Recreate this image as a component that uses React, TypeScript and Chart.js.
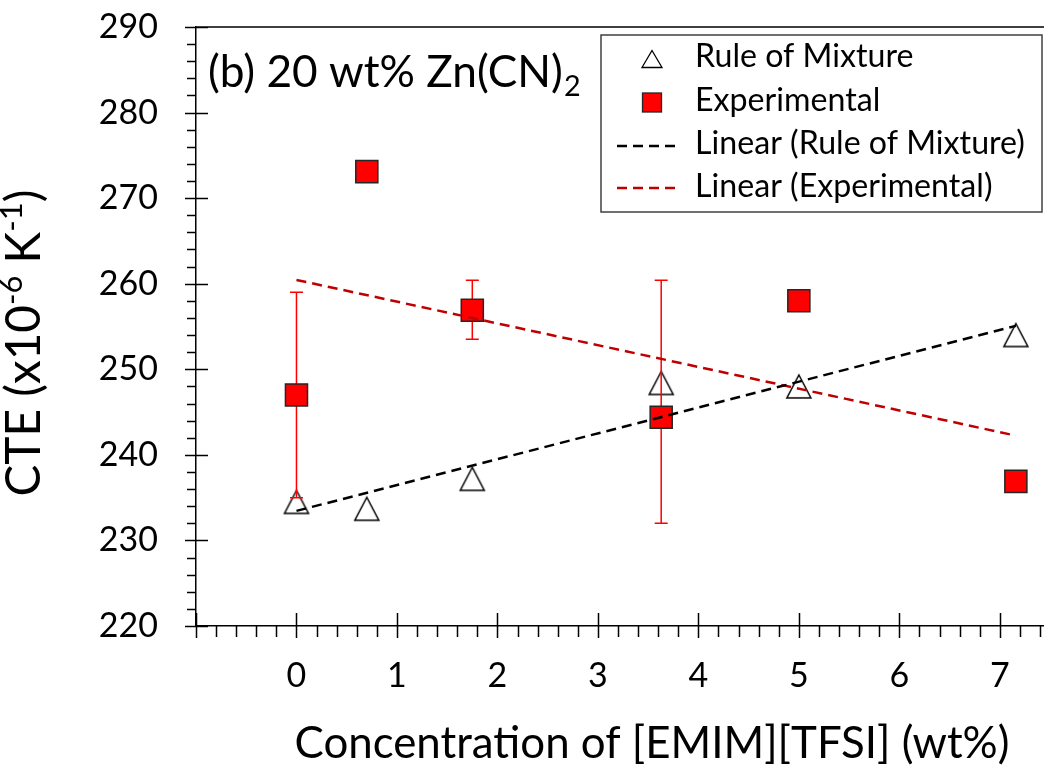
import React, { useEffect, useRef } from "react";
import { Chart, registerables } from "chart.js";

Chart.register(...registerables);

// ---- data ----
const concentration = [0, 0.7, 1.75, 3.63, 5, 7.16];
const ruleOfMixture = [234.5, 233.7, 237.2, 248.4, 248.0, 254.0];
const experimental = [247.0, 273.1, 256.9, 244.4, 258.0, 236.9];
const expErrPlus = [12, 0, 3.5, 16, 0, 0];
const expErrMinus = [12, 0, 3.4, 12.4, 0, 0];
const xTickValues = [0, 1, 2, 3, 4, 5, 6, 7];
const yTickValues = [220, 230, 240, 250, 260, 270, 280, 290];
const seriesLabels = [
  "Rule of Mixture",
  "Experimental",
  "Linear (Rule of Mixture)",
  "Linear (Experimental)",
];
const panelTitle = "(b) 20 wt% Zn(CN)";
const panelTitleSub = "2";
const xAxisTitle = "Concentration of [EMIM][TFSI] (wt%)";
const yAxisTitleParts = [
  { t: "CTE (x10", sup: false },
  { t: "-6", sup: true },
  { t: " K", sup: false },
  { t: "-1", sup: true },
  { t: ")", sup: false },
];

const FONT = "Lato";
const RED = "#FF0000";
const TREND_RED = "#C00000";
const CANVAS_W = 1084;
const CANVAS_H = 772;
const AREA = { left: 196, top: 27, right: 1044, bottom: 626 };

function linearFit(xs: number[], ys: number[]) {
  const n = xs.length;
  const mx = xs.reduce((a, b) => a + b, 0) / n;
  const my = ys.reduce((a, b) => a + b, 0) / n;
  let sxy = 0;
  let sxx = 0;
  for (let i = 0; i < n; i++) {
    sxy += (xs[i] - mx) * (ys[i] - my);
    sxx += (xs[i] - mx) * (xs[i] - mx);
  }
  const b = sxy / sxx;
  const a = my - b * mx;
  const x0 = xs[0];
  const x1 = xs[n - 1];
  return [
    { x: x0, y: a + b * x0 },
    { x: x1, y: a + b * x1 },
  ];
}

function fitSize(ctx: CanvasRenderingContext2D, text: string, target: number) {
  ctx.font = `100px ${FONT}`;
  return (100 * target) / ctx.measureText(text).width;
}

function makeTriangle(w: number, h: number) {
  const c = document.createElement("canvas");
  c.width = Math.ceil(w + 4);
  c.height = Math.ceil(h + 4);
  const g = c.getContext("2d")!;
  const cx = c.width / 2;
  const cy = c.height / 2;
  g.beginPath();
  g.moveTo(cx, cy - h / 2);
  g.lineTo(cx + w / 2, cy + h / 2);
  g.lineTo(cx - w / 2, cy + h / 2);
  g.closePath();
  g.fillStyle = "#FFFFFF";
  g.fill();
  g.lineWidth = 1.5;
  g.strokeStyle = "#000000";
  g.stroke();
  return c;
}

const overlayPlugin = {
  id: "overlay",
  afterDatasetDraw(chart: any, args: any) {
    if (args.index !== 3) return;
    const { ctx } = chart;
    const xs = chart.scales.x;
    const ys = chart.scales.y;
    ctx.save();
    ctx.strokeStyle = RED;
    ctx.lineWidth = 1.5;
    concentration.forEach((c, i) => {
      if (!expErrPlus[i] && !expErrMinus[i]) return;
      const px = xs.getPixelForValue(c);
      const top = ys.getPixelForValue(experimental[i] + expErrPlus[i]);
      const bot = ys.getPixelForValue(experimental[i] - expErrMinus[i]);
      ctx.beginPath();
      ctx.moveTo(px, top);
      ctx.lineTo(px, bot);
      ctx.moveTo(px - 6.5, top);
      ctx.lineTo(px + 6.5, top);
      ctx.moveTo(px - 6.5, bot);
      ctx.lineTo(px + 6.5, bot);
      ctx.stroke();
    });
    ctx.restore();
  },
  afterDraw(chart: any) {
    const { ctx, chartArea: ca } = chart;
    const xs = chart.scales.x;
    const ys = chart.scales.y;
    ctx.save();
    ctx.strokeStyle = "#000";
    ctx.lineWidth = 1.5;
    ctx.beginPath();
    // top frame line
    ctx.moveTo(ca.left, ca.top);
    ctx.lineTo(ca.right, ca.top);
    // x ticks (minor every 0.2)
    for (let k = -5; k <= 38; k++) {
      const v = k / 5;
      if (v > xs.max) break;
      const px = Math.round(xs.getPixelForValue(v)) + 0.5;
      if (k % 5 === 0) {
        ctx.moveTo(px, ca.bottom - 13);
        ctx.lineTo(px, ca.bottom + 12);
      } else {
        ctx.moveTo(px, ca.bottom);
        ctx.lineTo(px, ca.bottom + 11);
      }
    }
    // y ticks (minor every 2)
    for (let v = 220; v <= 290; v += 2) {
      const py = Math.round(ys.getPixelForValue(v)) + 0.5;
      if (v % 10 === 0) {
        ctx.moveTo(ca.left - 11, py);
        ctx.lineTo(ca.left + 12, py);
      } else {
        ctx.moveTo(ca.left - 9, py);
        ctx.lineTo(ca.left, py);
      }
    }
    ctx.stroke();

    ctx.fillStyle = "#000";
    ctx.textBaseline = "alphabetic";
    ctx.textAlign = "left";

    // panel title with subscript
    const pSize = fitSize(ctx, panelTitle, 355);
    ctx.font = `${pSize}px ${FONT}`;
    ctx.fillText(panelTitle, 208, 87);
    const pw = ctx.measureText(panelTitle).width;
    ctx.font = `${pSize * 0.65}px ${FONT}`;
    ctx.fillText(panelTitleSub, 208 + pw + 1, 96);

    // x axis title
    const xSize = fitSize(ctx, xAxisTitle, 715);
    ctx.font = `${xSize}px ${FONT}`;
    ctx.textAlign = "center";
    ctx.fillText(xAxisTitle, 652, 758);
    ctx.textAlign = "left";

    // y axis title with superscripts
    let w100 = 0;
    yAxisTitleParts.forEach((p) => {
      ctx.font = `${p.sup ? 65 : 100}px ${FONT}`;
      w100 += ctx.measureText(p.t).width;
    });
    const ySize = (100 * 307) / w100;
    ctx.save();
    ctx.translate(40, 343);
    ctx.rotate(-Math.PI / 2);
    let cx = -307 / 2;
    yAxisTitleParts.forEach((p) => {
      const s = p.sup ? ySize * 0.65 : ySize;
      ctx.font = `${s}px ${FONT}`;
      ctx.fillText(p.t, cx, p.sup ? -ySize * 0.38 : 0);
      cx += ctx.measureText(p.t).width;
    });
    ctx.restore();

    // legend
    ctx.fillStyle = "#FFFFFF";
    ctx.fillRect(601, 35, 441, 177);
    ctx.strokeStyle = "#404040";
    ctx.lineWidth = 1.5;
    ctx.strokeRect(601, 35, 441, 177);

    ctx.beginPath();
    ctx.moveTo(652, 50.5);
    ctx.lineTo(662, 67.5);
    ctx.lineTo(642, 67.5);
    ctx.closePath();
    ctx.fillStyle = "#FFFFFF";
    ctx.fill();
    ctx.strokeStyle = "#000";
    ctx.lineWidth = 1.3;
    ctx.stroke();

    ctx.fillStyle = RED;
    ctx.fillRect(642.5, 93, 19, 19);
    ctx.strokeStyle = "#262626";
    ctx.lineWidth = 1.3;
    ctx.strokeRect(642.5, 93, 19, 19);

    ctx.lineWidth = 2.5;
    ctx.setLineDash([10, 6]);
    ctx.strokeStyle = "#000";
    ctx.beginPath();
    ctx.moveTo(617, 146);
    ctx.lineTo(681, 146);
    ctx.stroke();
    ctx.strokeStyle = TREND_RED;
    ctx.beginPath();
    ctx.moveTo(617, 188);
    ctx.lineTo(681, 188);
    ctx.stroke();
    ctx.setLineDash([]);

    const lSize = fitSize(ctx, seriesLabels[2], 330);
    ctx.font = `${lSize}px ${FONT}`;
    ctx.fillStyle = "#000";
    const baselines = [67, 111, 154, 197];
    seriesLabels.forEach((t, i) => ctx.fillText(t, 695, baselines[i]));

    ctx.restore();
  },
};

function zeroPad(s: any) {
  s.paddingLeft = 0;
  s.paddingRight = 0;
  s.paddingTop = 0;
  s.paddingBottom = 0;
}

export default function App() {
  const canvasRef = useRef<HTMLCanvasElement | null>(null);

  useEffect(() => {
    document.body.style.margin = "0";
    const canvas = canvasRef.current;
    if (!canvas) return;

    const rulePoints = concentration.map((x, i) => ({ x, y: ruleOfMixture[i] }));
    const expPoints = concentration.map((x, i) => ({ x, y: experimental[i] }));
    const ruleTrend = linearFit(concentration, ruleOfMixture);
    const expTrend = linearFit(concentration, experimental);
    const tri = makeTriangle(24, 23);

    const tickFont = { family: FONT, size: 34 };

    const chart: any = new Chart(canvas, {
      type: "scatter",
      data: {
        datasets: [
          {
            label: seriesLabels[2],
            data: ruleTrend,
            showLine: true,
            borderColor: "#000000",
            borderWidth: 2.5,
            borderDash: [10, 6],
            pointRadius: 0,
            order: 0,
          },
          {
            label: seriesLabels[3],
            data: expTrend,
            showLine: true,
            borderColor: TREND_RED,
            borderWidth: 2.5,
            borderDash: [10, 6],
            pointRadius: 0,
            order: 1,
          },
          {
            label: seriesLabels[1],
            data: expPoints,
            pointStyle: "rect",
            pointRadius: 15.6,
            backgroundColor: RED,
            borderColor: "#262626",
            borderWidth: 1.5,
            order: 2,
          },
          {
            label: seriesLabels[0],
            data: rulePoints,
            pointStyle: tri as any,
            pointRadius: 13,
            order: 3,
          },
        ],
      },
      options: {
        animation: false,
        responsive: false,
        events: [],
        layout: {
          padding: { top: AREA.top, right: CANVAS_W - AREA.right, bottom: 0, left: 0 },
        },
        plugins: {
          legend: { display: false },
          tooltip: { enabled: false },
        },
        scales: {
          x: {
            type: "linear",
            min: -1,
            max: 7.44,
            afterBuildTicks: (s: any) => {
              s.ticks = xTickValues.map((v) => ({ value: v }));
            },
            afterFit: (s: any) => {
              s.height = CANVAS_H - AREA.bottom;
              zeroPad(s);
            },
            grid: { display: false, drawTicks: false },
            border: { display: true, color: "#000", width: 1.5 },
            ticks: {
              font: tickFont,
              color: "#000",
              padding: 30,
              maxRotation: 0,
              autoSkip: false,
              callback: (v: any) => String(v),
            },
          },
          y: {
            type: "linear",
            min: 220,
            max: 290,
            afterBuildTicks: (s: any) => {
              s.ticks = yTickValues.map((v) => ({ value: v }));
            },
            afterFit: (s: any) => {
              s.width = AREA.left;
              zeroPad(s);
            },
            grid: { display: false, drawTicks: false },
            border: { display: true, color: "#000", width: 1.5 },
            ticks: {
              font: tickFont,
              color: "#000",
              padding: 38,
              autoSkip: false,
              callback: (v: any) => String(v),
            },
          },
        },
      },
      plugins: [overlayPlugin],
    });

    // correct the plot-area position to the reference frame (two passes)
    const pad = { top: AREA.top, right: CANVAS_W - AREA.right, bottom: 0, left: 0 };
    for (let pass = 0; pass < 2; pass++) {
      const ca = chart.chartArea;
      const dt = AREA.top - ca.top;
      const dl = AREA.left - ca.left;
      const dr = ca.right - AREA.right;
      const db = ca.bottom - AREA.bottom;
      if (Math.abs(dt) + Math.abs(dl) + Math.abs(dr) + Math.abs(db) < 0.5) break;
      pad.top += dt;
      pad.left += dl;
      pad.right += dr;
      pad.bottom += db;
      chart.options.layout.padding = { ...pad };
      chart.update();
    }

    return () => chart.destroy();
  }, []);

  return (
    <div style={{ width: 1044, height: 772, overflow: "hidden", background: "#fff" }}>
      <canvas
        ref={canvasRef}
        width={CANVAS_W}
        height={CANVAS_H}
        style={{ display: "block", width: CANVAS_W, height: CANVAS_H }}
      />
    </div>
  );
}
